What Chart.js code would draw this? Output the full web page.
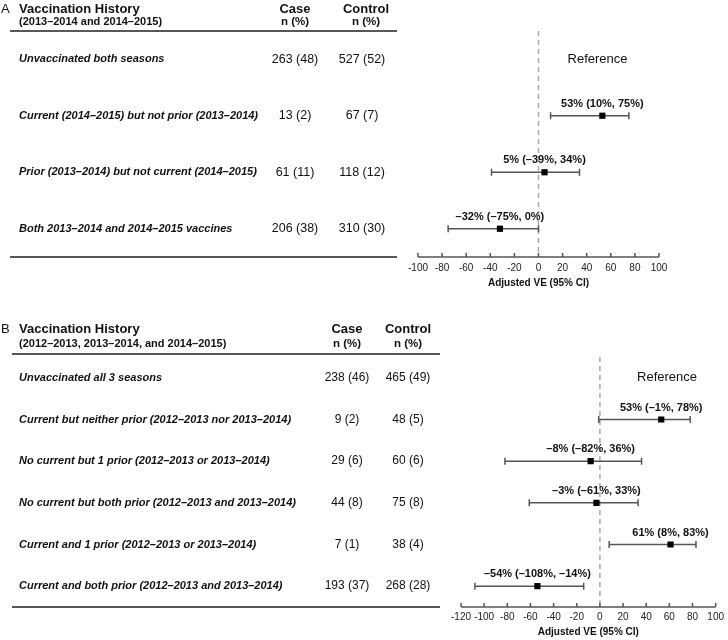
<!DOCTYPE html>
<html>
<head>
<meta charset="utf-8">
<script src="https://cdn.jsdelivr.net/npm/chart.js@4.4.1/dist/chart.umd.min.js"></script>
<style>
  body { margin: 0; background: #fff; }
  .panel { position: absolute; left: 0; width: 728px; }
</style>
</head>
<body>
<div class="panel" style="top:0;height:300px"><canvas id="chartA"></canvas></div>
<div class="panel" style="top:300px;height:340px"><canvas id="chartB"></canvas></div>
<script>
// ---- Panel A: 2 seasons ----
const historyA = [
  'Unvaccinated both seasons',
  'Current (2014\u20132015) but not prior (2013\u20132014)',
  'Prior (2013\u20132014) but not current (2014\u20132015)',
  'Both 2013\u20132014 and 2014\u20132015 vaccines'
];
const caseNA = [263, 13, 61, 206];
const casePctA = [48, 2, 11, 38];
const controlNA = [527, 67, 118, 310];
const controlPctA = [52, 7, 12, 30];
const veA = [null, 53, 5, -32];
const veLowA = [null, 10, -39, -75];
const veHighA = [null, 75, 34, 0];
const ticksA = [-100, 100, 20]; // min, max, step

// ---- Panel B: 3 seasons ----
const historyB = [
  'Unvaccinated all 3 seasons',
  'Current but neither prior (2012\u20132013 nor 2013\u20132014)',
  'No current but 1 prior (2012\u20132013 or 2013\u20132014)',
  'No current but both prior (2012\u20132013 and 2013\u20132014)',
  'Current and 1 prior (2012\u20132013 or 2013\u20132014)',
  'Current and both prior (2012\u20132013 and 2013\u20132014)'
];
const caseNB = [238, 9, 29, 44, 7, 193];
const casePctB = [46, 2, 6, 8, 1, 37];
const controlNB = [465, 48, 60, 75, 38, 268];
const controlPctB = [49, 5, 6, 8, 4, 28];
const veB = [null, 53, -8, -3, 61, -54];
const veLowB = [null, -1, -82, -61, 8, -108];
const veHighB = [null, 78, 36, 33, 83, -14];
const ticksB = [-120, 100, 20];

Chart.defaults.font.family = '"Liberation Sans", Arial, sans-serif';
Chart.defaults.color = '#222';

const pct = v => (v < 0 ? '\u2013' + Math.abs(v) : v) + '%';

// draws the table on the left, the estimate labels, and the axis line with ticks
const forestTable = {
  id: 'forestTable',
  afterDraw(chart, args, o) {
    const { ctx, chartArea } = chart;
    const xs = chart.scales.x, ys = chart.scales.y;
    ctx.save();
    ctx.fillStyle = '#111';
    ctx.textBaseline = 'middle';

    // headers
    ctx.textAlign = 'left';
    ctx.font = '13px "Liberation Sans", Arial';
    ctx.fillText(o.letter, 1, o.head1Y);
    ctx.font = 'bold 13px "Liberation Sans", Arial';
    ctx.fillText('Vaccination History', o.labelX, o.head1Y);
    ctx.font = 'bold 11px "Liberation Sans", Arial';
    ctx.fillText(o.subtitle, o.labelX, o.head2Y);
    ctx.textAlign = 'center';
    ctx.font = 'bold 13px "Liberation Sans", Arial';
    ctx.fillText('Case', o.caseX, o.head1Y);
    ctx.fillText('Control', o.controlHeadX, o.head1Y);
    ctx.font = 'bold 11.5px "Liberation Sans", Arial';
    ctx.fillText('n (%)', o.caseX, o.head2Y);
    ctx.fillText('n (%)', o.controlHeadX, o.head2Y);

    // rules
    ctx.strokeStyle = '#222';
    ctx.lineWidth = 1.6;
    ctx.beginPath();
    ctx.moveTo(o.ruleX0, o.ruleTopY);
    ctx.lineTo(o.ruleX1, o.ruleTopY);
    ctx.moveTo(o.ruleX0, chartArea.bottom);
    ctx.lineTo(o.ruleX1, chartArea.bottom);
    ctx.stroke();

    // rows
    o.rows.forEach((label, i) => {
      const py = ys.getPixelForValue(i);
      ctx.textAlign = 'left';
      ctx.font = 'italic bold 11px "Liberation Sans", Arial';
      ctx.fillText(label, o.labelX, py);
      ctx.textAlign = 'center';
      ctx.font = o.numFont;
      ctx.fillText(`${o.caseN[i]} (${o.casePct[i]})`, o.caseX, py);
      ctx.fillText(`${o.controlN[i]} (${o.controlPct[i]})`, o.controlX, py);
      if (o.ve[i] === null) {
        ctx.font = '13px "Liberation Sans", Arial';
        ctx.fillText('Reference', xs.getPixelForValue(o.refAt), py);
      } else {
        ctx.font = 'bold 11px "Liberation Sans", Arial';
        ctx.fillText(`${pct(o.ve[i])} (${pct(o.lo[i])}, ${pct(o.hi[i])})`,
          xs.getPixelForValue(o.ve[i]), py - 12);
      }
    });

    // x axis line with upward ticks
    ctx.strokeStyle = '#555';
    ctx.lineWidth = 1.5;
    ctx.beginPath();
    ctx.moveTo(xs.left, chartArea.bottom);
    ctx.lineTo(xs.right, chartArea.bottom);
    xs.ticks.forEach(t => {
      const px = xs.getPixelForValue(t.value);
      ctx.moveTo(px, chartArea.bottom);
      ctx.lineTo(px, chartArea.bottom - 4);
    });
    ctx.stroke();
    ctx.restore();
  }
};

function makeForest(id, rows, caseN, casePct, controlN, controlPct, ve, lo, hi, tk, lay) {
  const ciSets = [];
  ve.forEach((v, i) => {
    if (v === null) return;
    ciSets.push({
      type: 'line',
      data: [{ x: lo[i], y: i }, { x: hi[i], y: i }],
      borderColor: '#555',
      borderWidth: 1.5,
      pointStyle: 'line',
      pointRotation: 90,
      pointRadius: 3.5,
      pointBorderColor: '#555',
      pointBorderWidth: 1.5,
      pointBackgroundColor: '#555'
    });
  });
  const est = ve.map((v, i) => ({ x: v, y: i })).filter(p => p.x !== null);

  new Chart(document.getElementById(id), {
    type: 'scatter',
    data: {
      datasets: [
        {
          data: est,
          pointStyle: 'rect',
          pointRadius: 4.4,
          backgroundColor: '#000',
          borderWidth: 0
        },
        ...ciSets,
        {
          type: 'line',
          data: [{ x: 0, y: -0.5 }, { x: 0, y: rows.length - 0.5 }],
          borderColor: '#aaa',
          borderWidth: 1.5,
          borderDash: [5, 4],
          pointRadius: 0
        }
      ]
    },
    options: {
      responsive: true,
      maintainAspectRatio: false,
      animation: false,
      layout: { padding: lay.padding },
      plugins: {
        legend: { display: false },
        tooltip: { enabled: false },
        forestTable: {
          letter: lay.letter, subtitle: lay.subtitle,
          rows, caseN, casePct, controlN, controlPct, ve, lo, hi,
          labelX: 19, caseX: lay.caseX, controlX: lay.controlX, controlHeadX: lay.controlHeadX,
          head1Y: lay.head1Y, head2Y: lay.head2Y,
          ruleX0: lay.ruleX0, ruleX1: lay.ruleX1, ruleTopY: lay.ruleTopY,
          numFont: lay.numFont, refAt: lay.refAt
        }
      },
      scales: {
        x: {
          type: 'linear',
          min: tk[0],
          max: tk[1],
          afterFit: s => { s.height = lay.axisHeight; },
          grid: { display: false, drawTicks: false },
          border: { display: false },
          ticks: { stepSize: tk[2], autoSkip: false, maxRotation: 0, padding: lay.tickPad, font: { size: 10 }, color: '#222' },
          title: { display: true, text: 'Adjusted VE (95% CI)', font: { size: 10, weight: 'bold' }, color: '#111', padding: { top: 0, bottom: lay.titlePad } }
        },
        y: {
          type: 'linear',
          display: false,
          reverse: true,
          min: -0.5,
          max: rows.length - 0.5
        }
      }
    },
    plugins: [forestTable]
  });
}

makeForest('chartA', historyA, caseNA, casePctA, controlNA, controlPctA, veA, veLowA, veHighA, ticksA, {
  letter: 'A', subtitle: '(2013\u20132014 and 2014\u20132015)',
  padding: { left: 418, right: 69, top: 31, bottom: 3 },
  axisHeight: 40, tickPad: 5, titlePad: 8,
  caseX: 295, controlX: 362, controlHeadX: 366,
  head1Y: 9, head2Y: 22, ruleX0: 10, ruleX1: 397, ruleTopY: 31,
  numFont: '12.5px "Liberation Sans", Arial', refAt: 49
});

makeForest('chartB', historyB, caseNB, casePctB, controlNB, controlPctB, veB, veLowB, veHighB, ticksB, {
  letter: 'B', subtitle: '(2012\u20132013, 2013\u20132014, and 2014\u20132015)',
  padding: { left: 461, right: 9, top: 57, bottom: 0 },
  axisHeight: 33, tickPad: 4, titlePad: 2,
  caseX: 347, controlX: 408, controlHeadX: 408,
  head1Y: 29, head2Y: 44, ruleX0: 12, ruleX1: 440, ruleTopY: 54,
  numFont: '12px "Liberation Sans", Arial', refAt: 58
});
</script>
</body>
</html>
